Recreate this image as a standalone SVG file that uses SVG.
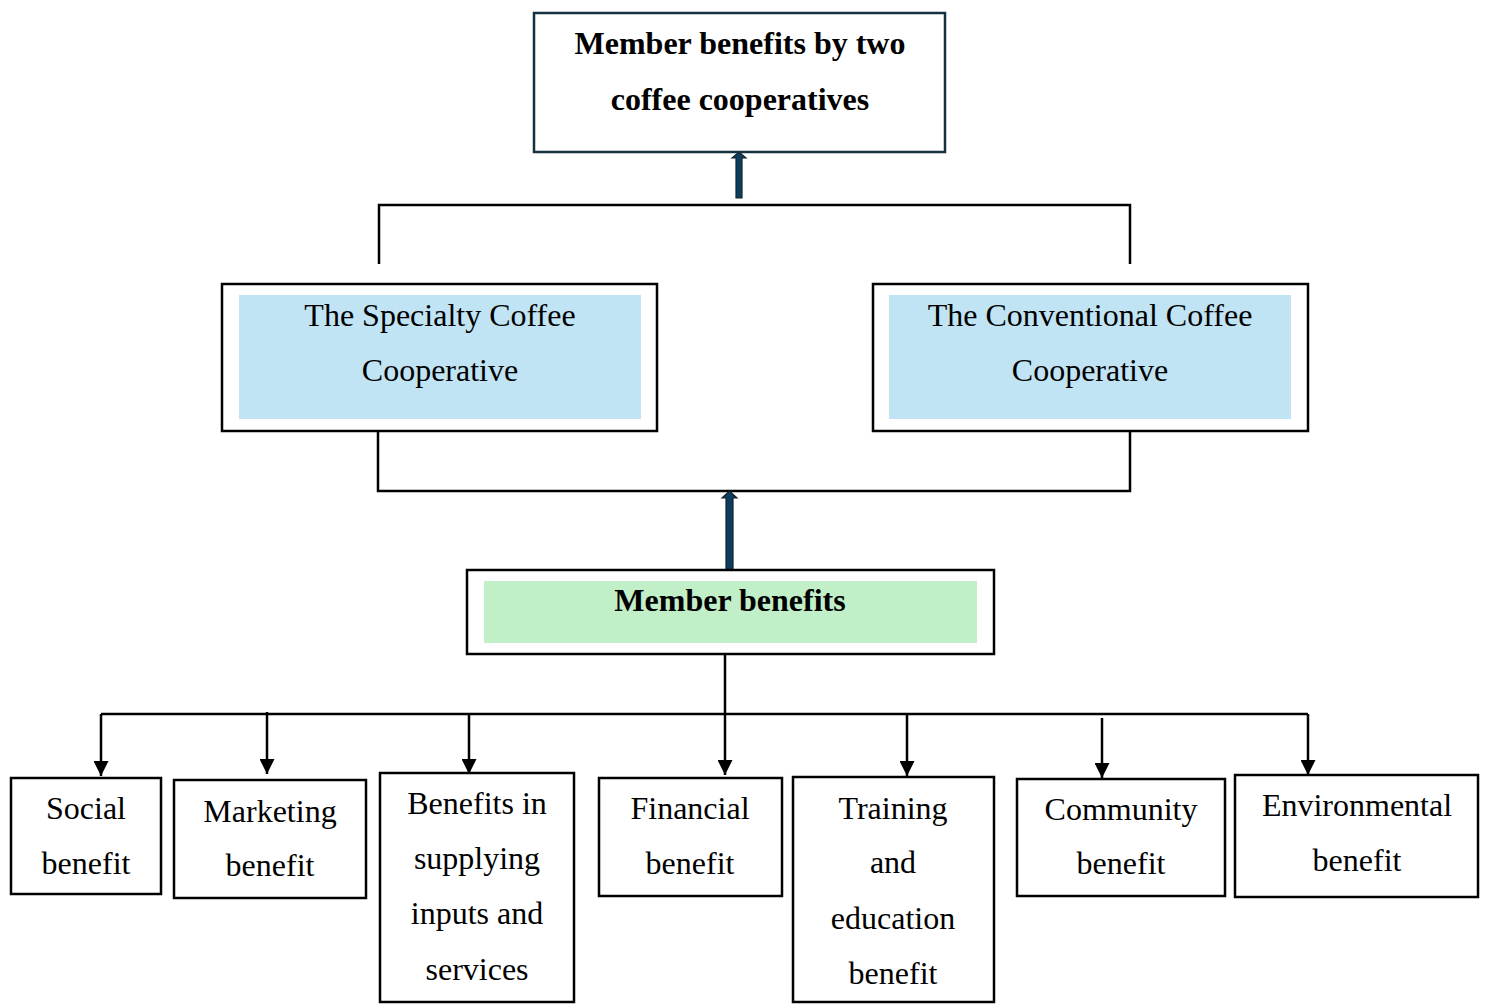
<svg xmlns="http://www.w3.org/2000/svg" width="1486" height="1004" viewBox="0 0 1486 1004">
<defs>
<style>
.box{fill:#ffffff;stroke:#000000;stroke-width:2.5}
.t{font-family:"Liberation Serif","Times New Roman",serif;font-size:32px;fill:#000000;text-anchor:middle}
.b{font-weight:bold}
.ln{fill:none;stroke:#000000;stroke-width:2.5}
.thick{fill:#0c3d5e;stroke:#15222c;stroke-width:1.2}
</style>
<marker id="ah" viewBox="0 0 15 15" refX="15" refY="7.5" markerWidth="15" markerHeight="15" markerUnits="userSpaceOnUse" orient="auto">
<path d="M0,0 L15,7.5 L0,15 Z" fill="#000000"/>
</marker>
</defs>
<rect width="1486" height="1004" fill="#ffffff"/>

<g id="connectors">
<path class="ln" d="M379,264 V205 H1130 V264"/>
<path class="ln" d="M378,431 V491 H1130 V431"/>
<path class="ln" d="M725,654 V714"/>
<path class="ln" d="M101,714 H1308"/>
<path class="ln" d="M101,714 V776" marker-end="url(#ah)"/>
<path class="ln" d="M267,712 V774" marker-end="url(#ah)"/>
<path class="ln" d="M469,714 V774" marker-end="url(#ah)"/>
<path class="ln" d="M725,714 V775" marker-end="url(#ah)"/>
<path class="ln" d="M907,714 V776" marker-end="url(#ah)"/>
<path class="ln" d="M1102,718 V778" marker-end="url(#ah)"/>
<path class="ln" d="M1308,714 V775" marker-end="url(#ah)"/>
<path class="thick" d="M736,198 V158 H732 L739,152 L746,158 H742 V198 Z"/>
<path class="thick" d="M726,570 V498 H722 L729.5,491 L737,498 H733 V570 Z"/>
</g>

<g id="node-top">
<rect x="534" y="13" width="411" height="139" fill="#ffffff" stroke="#17303f" stroke-width="2.5"/>
<text class="t b" x="740" y="54">Member benefits by two</text>
<text class="t b" x="740" y="110">coffee cooperatives</text>
</g>

<g id="node-specialty">
<rect class="box" x="222" y="284" width="435" height="147"/>
<rect x="239" y="295" width="402" height="124" fill="#c0e4f4"/>
<text class="t" x="440" y="326">The Specialty Coffee</text>
<text class="t" x="440" y="381">Cooperative</text>
</g>

<g id="node-conventional">
<rect class="box" x="873" y="284" width="435" height="147"/>
<rect x="889" y="295" width="402" height="124" fill="#c0e4f4"/>
<text class="t" x="1090" y="326">The Conventional Coffee</text>
<text class="t" x="1090" y="381">Cooperative</text>
</g>

<g id="node-member">
<rect class="box" x="467" y="570" width="527" height="84"/>
<rect x="484" y="581" width="493" height="62" fill="#c1efc8"/>
<text class="t b" x="730" y="611">Member benefits</text>
</g>

<g id="node-social">
<rect class="box" x="11" y="778" width="150" height="116"/>
<text class="t" x="86" y="819">Social</text>
<text class="t" x="86" y="874">benefit</text>
</g>

<g id="node-marketing">
<rect class="box" x="174" y="780" width="192" height="118"/>
<text class="t" x="270" y="822">Marketing</text>
<text class="t" x="270" y="876">benefit</text>
</g>

<g id="node-inputs">
<rect class="box" x="380" y="773" width="194" height="229"/>
<text class="t" x="477" y="814">Benefits in</text>
<text class="t" x="477" y="869">supplying</text>
<text class="t" x="477" y="924">inputs and</text>
<text class="t" x="477" y="980">services</text>
</g>

<g id="node-financial">
<rect class="box" x="599" y="778" width="183" height="118"/>
<text class="t" x="690" y="819">Financial</text>
<text class="t" x="690" y="874">benefit</text>
</g>

<g id="node-training">
<rect class="box" x="793" y="777" width="201" height="225"/>
<text class="t" x="893" y="819">Training</text>
<text class="t" x="893" y="873">and</text>
<text class="t" x="893" y="929">education</text>
<text class="t" x="893" y="984">benefit</text>
</g>

<g id="node-community">
<rect class="box" x="1017" y="779" width="208" height="117"/>
<text class="t" x="1121" y="820">Community</text>
<text class="t" x="1121" y="874">benefit</text>
</g>

<g id="node-environmental">
<rect class="box" x="1235" y="775" width="243" height="122"/>
<text class="t" x="1357" y="816">Environmental</text>
<text class="t" x="1357" y="871">benefit</text>
</g>
</svg>
